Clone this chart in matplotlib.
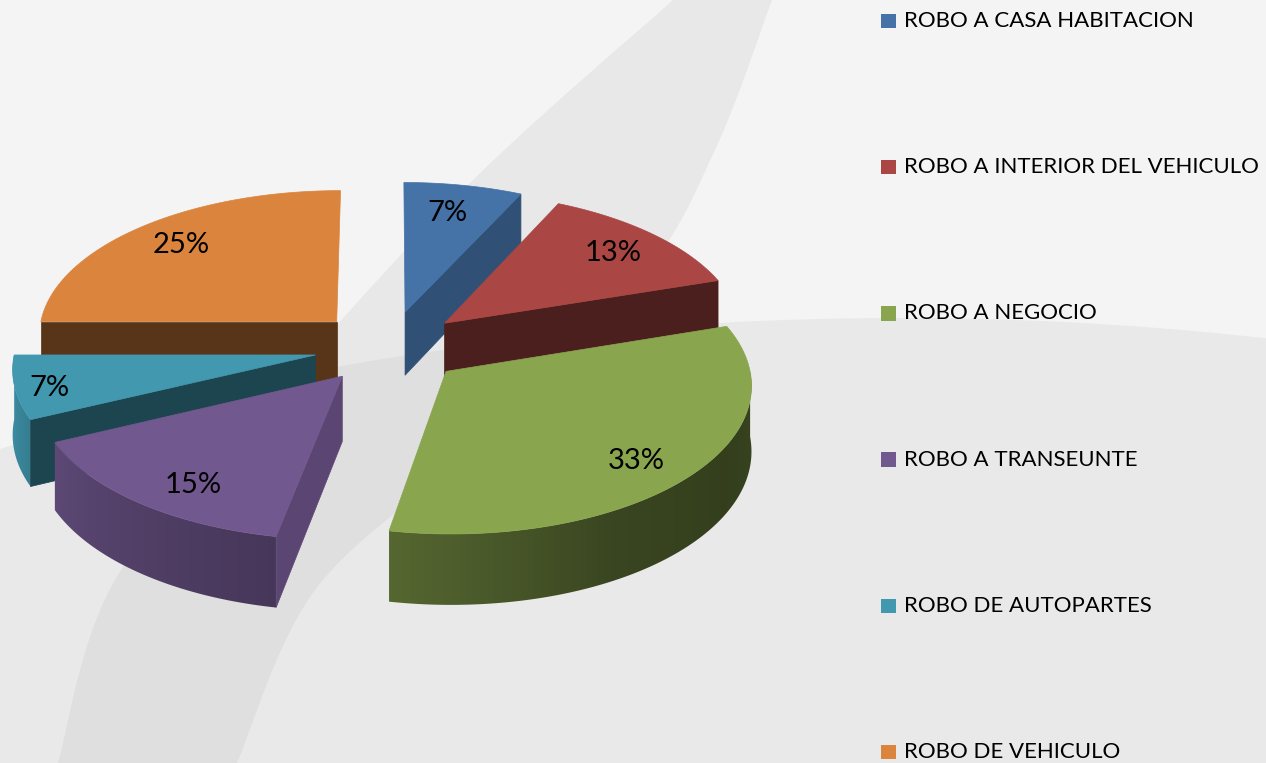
import numpy as np
import matplotlib
matplotlib.use("Agg")
import matplotlib.pyplot as plt
from matplotlib.patches import Polygon, Rectangle, Ellipse

# ---------------- data ----------------
categories = ["ROBO A CASA HABITACION", "ROBO A INTERIOR DEL VEHICULO",
              "ROBO A NEGOCIO", "ROBO A TRANSEUNTE", "ROBO DE AUTOPARTES",
              "ROBO DE VEHICULO"]
values = [7, 13, 33, 15, 7, 25]
colors = ["#4572A7", "#AA4643", "#89A54E", "#71588F", "#4198AF", "#DB843D"]

# ---------------- style / geometry ----------------
W, H = 1266, 763
CX, CY = 389, 347
ALPHA = np.radians(29)
DIST = 10.9
FOC = 3270
DEPTH = 0.245
EXPLODE = 0.25
LABEL_R = [0.77, 0.79, 0.82, 0.82, 0.89, 0.795]      # label radius per slice
LABEL_DPHI = [-1.0, 0.7, 2.7, -4.2, -1.8, 0.4]       # label angle nudge (deg)
FONT = "Lato"

CUT_PSI = [90, 101, 115, 155, 180, 270]
CUT_SH = [0.85, 0.8, 0.7, 0.45, 0.4, 0.4]
WALL_PSI = [80, 120, 150, 190, 240, 260, 280]
WALL_SH = [0.42, 0.38, 0.42, 0.62, 0.8, 0.92, 0.95]


def proj(X, Y, Z):
    X = np.asarray(X, float); Y = np.asarray(Y, float); Z = np.asarray(Z, float)
    dep = DIST + Y * np.cos(ALPHA)
    up = Y * np.sin(ALPHA) + Z * np.cos(ALPHA)
    return CX + FOC * X / dep, CY - FOC * up / dep


def shade(hexc, f):
    r, g, b = matplotlib.colors.to_rgb(hexc)
    return (r * f, g * f, b * f)


def catmull(pts, n=30):
    pts = np.asarray(pts, float)
    P = np.vstack([2 * pts[0] - pts[1], pts, 2 * pts[-1] - pts[-2]])
    out = []
    for i in range(1, len(P) - 2):
        p0, p1, p2, p3 = P[i - 1], P[i], P[i + 1], P[i + 2]
        for t in np.linspace(0, 1, n, endpoint=False):
            t2, t3 = t * t, t * t * t
            out.append(0.5 * ((2 * p1) + (-p0 + p2) * t +
                              (2 * p0 - 5 * p1 + 4 * p2 - p3) * t2 +
                              (-p0 + 3 * p1 - 3 * p2 + p3) * t3))
    out.append(P[-2])
    return np.array(out)


fig = plt.figure(figsize=(W / 100, H / 100), dpi=100)
fig.patch.set_facecolor("#f4f4f4")
ax = fig.add_axes([0, 0, 1, 1])
ax.set_facecolor("#f4f4f4")

# ---------------- background decoration ----------------
left_edge = catmull([(683, -10), (673, 0), (470, 183), (270, 400), (115, 580), (58, 763), (55, 780)])
right_edge = catmull([(776, -10), (772, 0), (715, 150), (640, 280), (470, 450), (315, 590), (237, 763), (230, 780)])
band_pts = np.vstack([left_edge, right_edge[::-1]])
ax.add_patch(Polygon(band_pts, closed=True, facecolor="#e8e8e8", edgecolor="none", zorder=1))
ell = Ellipse((900, 1218), 3464, 1800, facecolor="#e9e9e9", edgecolor="none", zorder=2)
ax.add_patch(ell)
band2 = Polygon(band_pts, closed=True, facecolor="#dfdfdf", edgecolor="none", zorder=3)
ax.add_patch(band2)
band2.set_clip_path(ell)

# ---------------- 3D pie ----------------
total = float(sum(values))
bounds = np.cumsum([0] + values) / total * 2 * np.pi
slices = []
for i, v in enumerate(values):
    p1, p2 = bounds[i], bounds[i + 1]
    pm = 0.5 * (p1 + p2)
    slices.append((np.cos(pm), i, p1, p2, pm))
slices.sort(key=lambda s: -s[0])  # back first

z = 10
for _, i, p1, p2, pm in slices:
    col = colors[i]
    ox, oy = EXPLODE * np.sin(pm), EXPLODE * np.cos(pm)
    n = max(8, int((p2 - p1) / np.radians(0.5)))
    t = np.linspace(p1, p2, n)
    rx, ry = ox + np.sin(t), oy + np.cos(t)
    # outer wall (front half) as a clipped gradient image
    vis = np.cos(t) < 0
    if vis.sum() >= 2:
        tv = t[vis]
        wx, wy = ox + np.sin(tv), oy + np.cos(tv)
        tx, ty = proj(wx, wy, np.zeros_like(tv))
        bx, by = proj(wx, wy, np.full_like(tv, -DEPTH))
        poly = np.vstack([np.c_[tx, ty], np.c_[bx, by][::-1]])
        f = np.interp(np.degrees(tv) % 360, WALL_PSI, WALL_SH)
        order = np.argsort(tx)
        x0, x1 = poly[:, 0].min() - 2, poly[:, 0].max() + 2
        y0, y1 = poly[:, 1].min() - 2, poly[:, 1].max() + 2
        cols_x = np.linspace(x0, x1, 400)
        fx = np.interp(cols_x, tx[order], f[order])
        base = np.array(matplotlib.colors.to_rgb(col))
        img = (fx[:, None] * base[None, :])[None, :, :]
        wall = Polygon(poly, closed=True, facecolor="none", edgecolor="none", zorder=z)
        ax.add_patch(wall)
        im = ax.imshow(img, extent=(x0, x1, y1, y0), aspect="auto",
                       interpolation="bilinear", zorder=z)
        im.set_clip_path(wall)
    # cut faces
    for ang, nvec in ((p1, (-np.cos(p1), np.sin(p1))), (p2, (np.cos(p2), -np.sin(p2)))):
        if nvec[1] >= -1e-6:
            continue
        ex, ey = ox + np.sin(ang), oy + np.cos(ang)
        sx, sy = proj([ox, ex, ex, ox], [oy, ey, ey, oy], [0, 0, -DEPTH, -DEPTH])
        psi = np.degrees(np.arctan2(nvec[0], nvec[1])) % 360
        c = shade(col, np.interp(psi, CUT_PSI, CUT_SH))
        ax.add_patch(Polygon(np.c_[sx, sy], closed=True, facecolor=c,
                             edgecolor=c, lw=0.5, zorder=z + 1))
    # top face
    sx, sy = proj(np.r_[ox, rx], np.r_[oy, ry], np.zeros(n + 1))
    ax.add_patch(Polygon(np.c_[sx, sy], closed=True, facecolor=col,
                         edgecolor=col, lw=0.5, zorder=z + 2))
    # label
    pl = pm + np.radians(LABEL_DPHI[i])
    lx, ly = proj(ox + LABEL_R[i] * np.sin(pl), oy + LABEL_R[i] * np.cos(pl), 0)
    ax.text(float(lx), float(ly), f"{values[i]}%", ha="center", va="center",
            fontsize=21, family=FONT, color="black", zorder=100)
    z += 5

# ---------------- legend ----------------
LEG_X, LEG_Y0, LEG_DY, SQ = 881, 21, 146.2, 14.5
for k, (cat, col) in enumerate(zip(categories, colors)):
    yc = LEG_Y0 + k * LEG_DY
    ax.add_patch(Rectangle((LEG_X, yc - SQ / 2), SQ, SQ, facecolor=col,
                           edgecolor="none", zorder=100))
    ax.text(LEG_X + 23, yc, cat, ha="left", va="center", fontsize=16,
            family=FONT, color="black", zorder=100)

ax.set_xlim(0, W)
ax.set_ylim(H, 0)
ax.axis("off")
fig.savefig("out.png", dpi=100, facecolor=fig.get_facecolor())
